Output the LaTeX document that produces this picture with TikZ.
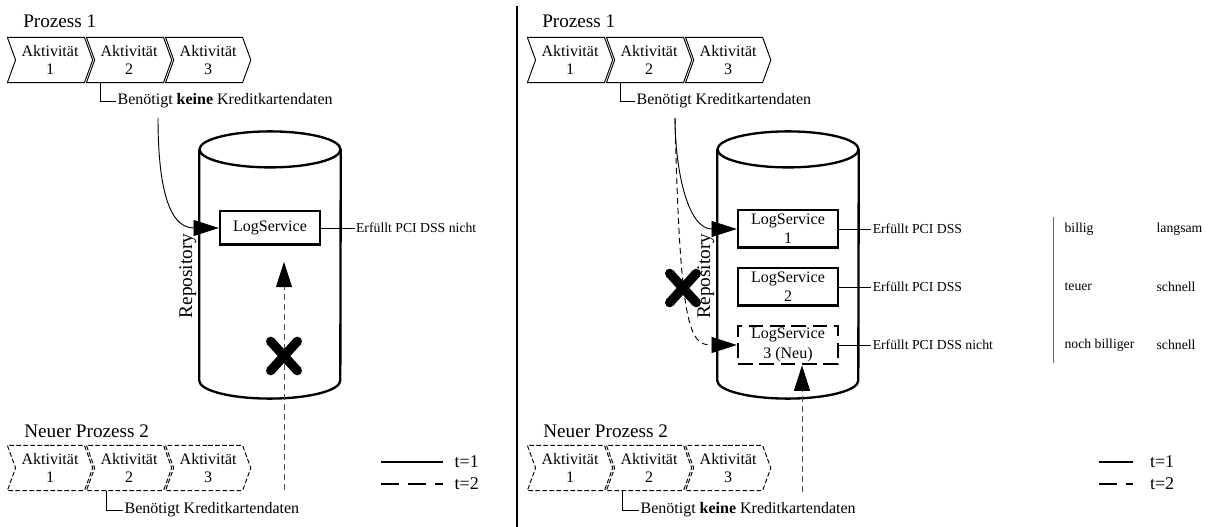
\documentclass[tikz,border=0pt]{standalone}
\usepackage{fontspec}
\setmainfont{Liberation Serif}
\usetikzlibrary{shapes.geometric, shapes.symbols, shapes.misc, arrows.meta, positioning, calc}

\begin{document}
\begin{tikzpicture}[
    x=0.75pt, y=-0.75pt,
    node distance=0.75pt,
    act/.style={signal, signal from=west, signal to=east, signal pointer angle=140, draw, line width=0.7pt, minimum width=64pt, minimum height=34pt, inner sep=1pt, align=center, font=\fontsize{12pt}{13pt}\selectfont},
    newact/.style={act, dash pattern=on 3.5pt off 1.75pt},
    title/.style={anchor=west, inner sep=0pt, font=\fontsize{14.4pt}{16pt}\selectfont},
    need/.style={anchor=west, inner sep=1pt, font=\fontsize{12pt}{14pt}\selectfont},
    db/.style={rectangle, minimum width=105.75pt, minimum height=200pt, inner sep=0pt},
    wall/.style={line width=1.75pt},
    repo/.style={rotate=90, anchor=south, inner sep=2pt, font=\fontsize{14.5pt}{16pt}\selectfont},
    service/.style={rectangle, draw, line width=1.75pt, minimum width=75pt, minimum height=28pt, inner sep=2pt, align=center, font=\fontsize{12pt}{14.4pt}\selectfont},
    newservice/.style={service, dash pattern=on 11pt off 5pt},
    pci/.style={inner sep=1pt, font=\fontsize{10.3pt}{12pt}\selectfont},
    line/.style={draw, line width=0.7pt},
    flow/.style={draw, line width=0.7pt, -{Triangle[length=19pt, width=12pt]}},
    upflow/.style={flow, draw=black!70, dash pattern=on 4.5pt off 3pt, -{Triangle[length=19pt, width=12pt, color=black]}},
    stop/.style={cross out, draw, line width=7pt, line cap=round, minimum width=13pt, minimum height=15pt, inner sep=0pt},
    keyline/.style={line width=1.5pt},
    key/.style={right=8pt, inner sep=0pt, font=\fontsize{13.5pt}{15pt}\selectfont}
]
\useasboundingbox (0,0) rectangle (1211,527);

% ---------- left: t=1 ----------
\node [title] (p1) at (23,21) {Prozess 1};
\node [act] (a1) at (50,60) {Aktivität\\1};
\node [act, right=of a1] (a2) {Aktivität\\2};
\node [act, right=of a2] (a3) {Aktivität\\3};
\node [need] (need1) at (116,101) {Benötigt \textbf{keine} Kreditkartendaten};
\draw [line] (need1.west) -| ($(a2.south)+(-29,0)$);

% repository as cylinder
\node [db] (db1) at (270,265) {};
\draw [wall] ($(db1.north west)+(0,18)$) -- ($(db1.south west)+(0,-18)$)
    arc [start angle=180, end angle=360, x radius=52.9pt, y radius=13.5pt]
    -- ($(db1.north east)+(0,18)$);
\draw [wall] ($(db1.north)+(0,18)$) ellipse [x radius=52.9pt, y radius=13.5pt];
\node [repo] (rep1) at ($(db1.west)+(0,11)$) {Repository};

\node [service, minimum height=25pt] (svc0) at (270,228) {LogService};
\node [pci, right=25pt of svc0] (pci0) {Erfüllt PCI DSS nicht};
\draw [line] (svc0) -- (pci0);

\coordinate (c1) at ($(need1.south west)+(42,8)$);
\path [flow] (c1) to[out=-90, in=180, looseness=1.1] (svc0.west);

\node [title] (p2) at (24,431) {Neuer Prozess 2};
\node [newact] (b1) at (50,468) {Aktivität\\1};
\node [newact, right=of b1] (b2) {Aktivität\\2};
\node [newact, right=of b2] (b3) {Aktivität\\3};
\node [need] (need2) at (123,510) {Benötigt Kreditkartendaten};
\draw [line] (need2.west) -| ($(b2.south)+(-23,0)$);

\coordinate (up1) at (284,490);
\path [upflow, shorten >=12pt] (up1) -- (svc0.south -| up1);
\node [stop] (x1) at (284,356) {};

\draw [keyline] (381,462) -- (443,462) node [key] (t1) {t=1};
\draw [keyline, dash pattern=on 13.5pt off 6.75pt] (381,484) -- (443,484) node [key] (t2) {t=2};

% separator
\draw [line width=1.5pt] (517,6) -- (517,527);

% ---------- right: t=2 ----------
\node [title] (q1) at (542,21) {Prozess 1};
\node [act] (d1) at (570,60) {Aktivität\\1};
\node [act, right=of d1] (d2) {Aktivität\\2};
\node [act, right=of d2] (d3) {Aktivität\\3};
\node [need] (need3) at (635,101) {Benötigt Kreditkartendaten};
\draw [line] (need3.west) -| ($(d2.south)+(-29,0)$);

\node [db] (db2) at (788,265) {};
\draw [wall] ($(db2.north west)+(0,18)$) -- ($(db2.south west)+(0,-18)$)
    arc [start angle=180, end angle=360, x radius=52.9pt, y radius=13.5pt]
    -- ($(db2.north east)+(0,18)$);
\draw [wall] ($(db2.north)+(0,18)$) ellipse [x radius=52.9pt, y radius=13.5pt];
\node [repo] (rep2) at ($(db2.west)+(0,11)$) {Repository};

\node [service] (svc1) at (788,229) {LogService\\1};
\node [service] (svc2) at (788,287) {LogService\\2};
\node [newservice] (svc3) at (788,345) {LogService\\3 (Neu)};
\node [pci, right=24pt of svc1] (pci1) {Erfüllt PCI DSS};
\node [pci, right=24pt of svc2] (pci2) {Erfüllt PCI DSS};
\node [pci, right=24pt of svc3] (pci3) {Erfüllt PCI DSS nicht};
\draw [line] (svc1) -- (pci1);
\draw [line] (svc2) -- (pci2);
\draw [line] (svc3) -- (pci3);

\draw [black!60, line width=0.6pt] (1053,217) -- (1053,363);
\node [pci, anchor=west] (cost1) at (1063,229) {billig};
\node [pci, anchor=west] (cost2) at (1063,287) {teuer};
\node [pci, anchor=west] (cost3) at (1063,345) {noch billiger};
\node [pci, anchor=west] (speed1) at (1155,229) {langsam};
\node [pci, anchor=west] (speed2) at (1155,287) {schnell};
\node [pci, anchor=west] (speed3) at (1155,345) {schnell};

\coordinate (c2) at ($(need3.south west)+(40,8)$);
\path [flow] (c2) to[out=-90, in=180] (svc1.west);
\path [flow, dash pattern=on 4.5pt off 3pt] (c2) .. controls +(5,213) and +(-47,0) .. (svc3.west);
\node [stop] (x2) at (683,288) {};

\node [title] (q2) at (543,431) {Neuer Prozess 2};
\node [newact] (e1) at (570,468) {Aktivität\\1};
\node [newact, right=of e1] (e2) {Aktivität\\2};
\node [newact, right=of e2] (e3) {Aktivität\\3};
\node [need] (need4) at (639,510) {Benötigt \textbf{keine} Kreditkartendaten};
\draw [line] (need4.west) -| ($(e2.south)+(-27,0)$);

\coordinate (up2) at (802,492);
\path [upflow] (up2) -- (svc3.south -| up2);

\draw [keyline] (1099,462) -- (1133,462) node [key, right=12pt] (t3) {t=1};
\draw [keyline, dash pattern=on 13.5pt off 6.75pt] (1099,484) -- (1133,484) node [key, right=12pt] (t4) {t=2};

\end{tikzpicture}
\end{document}
